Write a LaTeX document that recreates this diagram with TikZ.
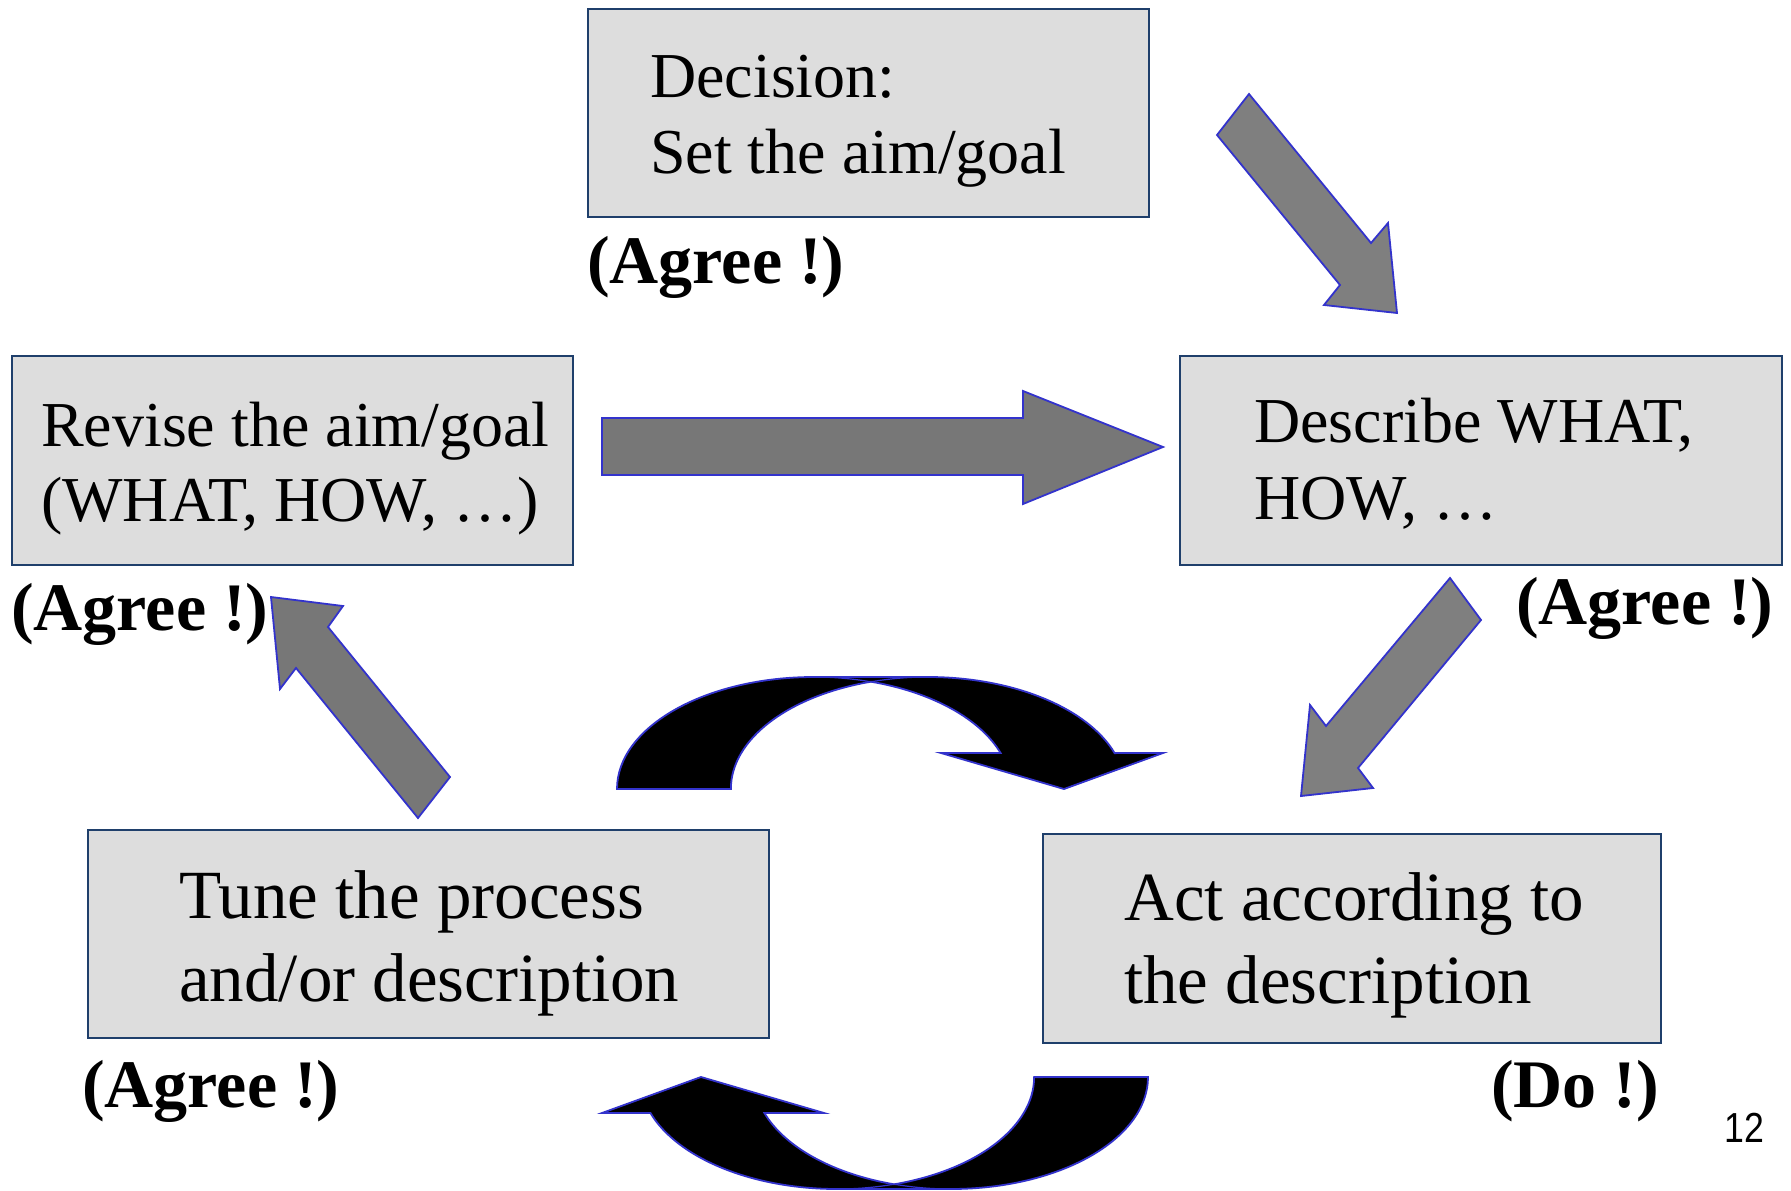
\documentclass[tikz,border=0pt]{standalone}
\usepackage{fontspec}
\setmainfont{Liberation Serif}
\newfontfamily\pagenumfont{Liberation Sans}
\definecolor{boxfill}{HTML}{DDDDDD}
\definecolor{boxline}{HTML}{1F3F6B}
\definecolor{arrgray}{HTML}{7F7F7F}
\definecolor{arrgrayd}{HTML}{777777}
\definecolor{arrblue}{HTML}{3333CC}
\newcommand\curvarrowshape{%
  \path[carrow] (-249,0) arc[start angle=180, end angle=90, x radius=197, y radius=112]
    -- (62,112) arc[start angle=90, end angle=18.7, x radius=197, y radius=112]
    -- (297,36) -- (198,0) -- (75,36) -- (134.6,36)
    arc[start angle=18.7, end angle=73.2, x radius=197, y radius=112]
    arc[start angle=106.8, end angle=180, x radius=197, y radius=112] -- cycle;
  \draw[crossline] (4.9,107.2) arc[start angle=73.2, end angle=90, x radius=197, y radius=112];
  \draw[crossline] (4.9,107.2) arc[start angle=106.8, end angle=90, x radius=197, y radius=112];
}
\begin{document}
\begin{tikzpicture}[x=1pt,y=-1pt,
  box/.style={draw=boxline, line width=2pt, fill=boxfill, rectangle, inner sep=0pt, anchor=north west},
  boxtxt/.style={anchor=base west, inner sep=0pt, font=\fontsize{64}{77}\selectfont},
  boxtxtb/.style={anchor=base west, inner sep=0pt, font=\fontsize{69}{83}\selectfont},
  agree/.style={anchor=base west, inner sep=0pt, font=\bfseries\fontsize{68}{80}\selectfont},
  garrow/.style={fill=arrgray, draw=arrblue, line width=1.8pt, line join=miter},
  carrow/.style={fill=black, draw=arrblue, line width=1.8pt, line join=miter},
  crossline/.style={draw=arrblue, line width=1.2pt}]
\useasboundingbox (0,0) rectangle (1791,1191);
\fill[white] (0,0) rectangle (1791,1191);

% boxes
\node[box, minimum width=561pt, minimum height=208pt] (b1) at (587,8) {};
\node[box, minimum width=561pt, minimum height=209pt] (b2) at (11,355) {};
\node[box, minimum width=602pt, minimum height=209pt] (b3) at (1179,355) {};
\node[box, minimum width=681pt, minimum height=208pt] (b4) at (87,829) {};
\node[box, minimum width=618pt, minimum height=209pt] (b5) at (1042,833) {};

% box texts
\node[boxtxt] (t1a) at (650,97) {Decision:};
\node[boxtxt] (t1b) at (650,173) {Set the aim/goal};
\node[boxtxt] (t2a) at (41,446) {Revise the aim/goal};
\node[boxtxt] (t2b) at (41,521) {(WHAT, HOW, …)};
\node[boxtxt] (t3a) at (1254,442) {Describe WHAT,};
\node[boxtxt] (t3b) at (1254,519) {HOW, …};
\node[boxtxtb] (t4a) at (179,918) {Tune the process};
\node[boxtxtb] (t4b) at (179,1001) {and/or description};
\node[boxtxtb] (t5a) at (1124,920) {Act according to};
\node[boxtxtb] (t5b) at (1124,1003) {the description};

% labels
\node[agree] (l1) at (587,283) {(Agree !)};
\node[agree] (l2) at (11,630) {(Agree !)};
\node[agree] (l3) at (1516,624) {(Agree !)};
\node[agree] (l4) at (82,1107) {(Agree !)};
\node[agree] (l5) at (1491,1107) {(Do !)};
\node[anchor=base west, inner sep=0pt, font=\pagenumfont\fontsize{42}{50}\selectfont] (pg) at (1724,1142) {\scalebox{0.85}[1]{12}};

% block arrows
\path[garrow] (1217,135) -- (1340,285) -- (1324,305) -- (1397,313) -- (1388,223) -- (1371,243) -- (1249,94) -- cycle;
\path[garrow, fill=arrgrayd] (602,418) -- (1023,418) -- (1023,391) -- (1163,447) -- (1023,504) -- (1023,475) -- (602,475) -- cycle;
\path[garrow] (1450,578) -- (1326,726) -- (1310,705) -- (1301,796) -- (1373,788) -- (1358,768) -- (1481,620) -- cycle;
\path[garrow, fill=arrgrayd] (450,777) -- (328,627) -- (343,606) -- (271,597) -- (280,689) -- (296,668) -- (418,818) -- cycle;

% curved arrows
\begin{scope}[shift={(866,789)}, yscale=-1]
  \curvarrowshape
\end{scope}
\begin{scope}[shift={(899,1077)}, xscale=-1]
  \curvarrowshape
\end{scope}
\end{tikzpicture}
\end{document}
